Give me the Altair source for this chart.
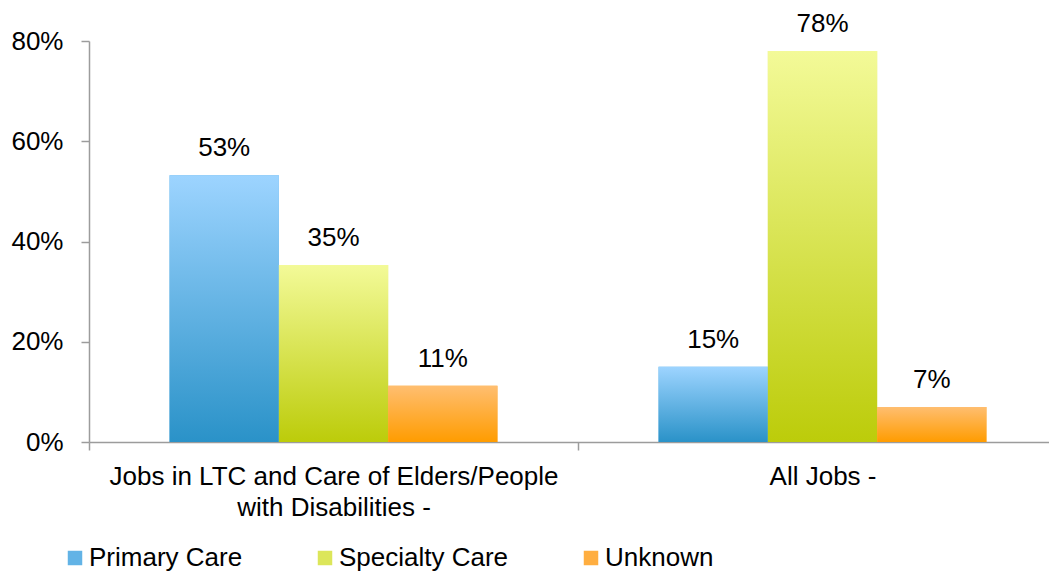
import altair as alt
import pandas as pd

groups = ["Jobs in LTC and Care of Elders/People\nwith Disabilities -", "All Jobs -"]
series = ["Primary Care", "Specialty Care", "Unknown"]
values_ltc = [0.532, 0.353, 0.112]
values_all = [0.150, 0.780, 0.070]

# gradient stops (top, bottom) per series and solid legend colours
grad_top = ["#9DD4FF", "#F3FA98", "#FFBE70"]
grad_bottom = ["#2A92C8", "#BCCC0A", "#FF9C00"]
legend_colors = ["#62B3E6", "#DCE65A", "#FFAE40"]

rows = []
for g, vals in zip(groups, [values_ltc, values_all]):
    for s, v in zip(series, vals):
        rows.append({"group": g, "series": s, "value": v})
df = pd.DataFrame(rows)

FONT = "Liberation Sans"
FS = 26
AXIS_COLOR = "#9C9C9C"

x_enc = alt.X(
    "group:N",
    sort=groups,
    scale=alt.Scale(range=[0, 978], paddingInner=0, paddingOuter=0),
    axis=alt.Axis(
        title=None,
        labelAngle=0,
        labelFontSize=FS,
        labelFont=FONT,
        labelColor="black",
        labelLineHeight=31,
        labelPadding=13,
        labelBaseline="top",
        labelLimit=0,
        labelExpr="split(datum.label, '\\n')",
        tickBand="extent",
        tickSize=8,
        tickColor=AXIS_COLOR,
        tickWidth=1.5,
        domainColor=AXIS_COLOR,
        domainWidth=1.5,
        grid=False,
    ),
)
xoff_enc = alt.XOffset(
    "series:N", sort=series, scale=alt.Scale(paddingInner=0, paddingOuter=0.737)
)
y_enc = alt.Y(
    "value:Q",
    scale=alt.Scale(domain=[0, 0.8], nice=False),
    axis=alt.Axis(
        title=None,
        values=[0, 0.2, 0.4, 0.6, 0.8],
        format=".0%",
        labelFontSize=FS,
        labelFont=FONT,
        labelColor="black",
        labelPadding=18,
        tickSize=8,
        tickColor=AXIS_COLOR,
        tickWidth=1.5,
        domainColor=AXIS_COLOR,
        domainWidth=1.5,
        grid=False,
    ),
)

base = alt.Chart(df).encode(x=x_enc, xOffset=xoff_enc, y=y_enc)

legend_layer = base.mark_bar().encode(
    color=alt.Color(
        "series:N",
        sort=series,
        scale=alt.Scale(domain=series, range=legend_colors),
        legend=alt.Legend(
            title=None,
            orient="none",
            direction="horizontal",
            legendX=-27,
            legendY=504,
            symbolType="square",
            symbolSize=210,
            symbolStrokeWidth=0,
            labelFontSize=FS,
            labelFont=FONT,
            labelColor="black",
            labelOffset=1,
            labelLimit=0,
            columnPadding=69,
            padding=0,
        ),
    )
)

layers = [legend_layer]
for s, top, bottom in zip(series, grad_top, grad_bottom):
    grad = alt.LinearGradient(
        gradient="linear",
        x1=0, x2=0, y1=0, y2=1,
        stops=[alt.GradientStop(color=top, offset=0), alt.GradientStop(color=bottom, offset=1)],
    )
    layers.append(
        base.transform_filter(alt.datum.series == s).mark_bar(color=grad)
    )

text_layer = base.mark_text(
    fontSize=FS, font=FONT, color="black", baseline="alphabetic", dy=-19
).encode(text=alt.Text("value:Q", format=".0%"))
layers.append(text_layer)

chart = (
    alt.layer(*layers)
    .properties(
        width=960,
        height=401,
        autosize="none",
        padding={"left": 81, "top": 33, "right": 0, "bottom": 131},
    )
    .configure_view(strokeWidth=0)
)

chart.save("out.html", embed_options={"renderer": "svg", "actions": False})
